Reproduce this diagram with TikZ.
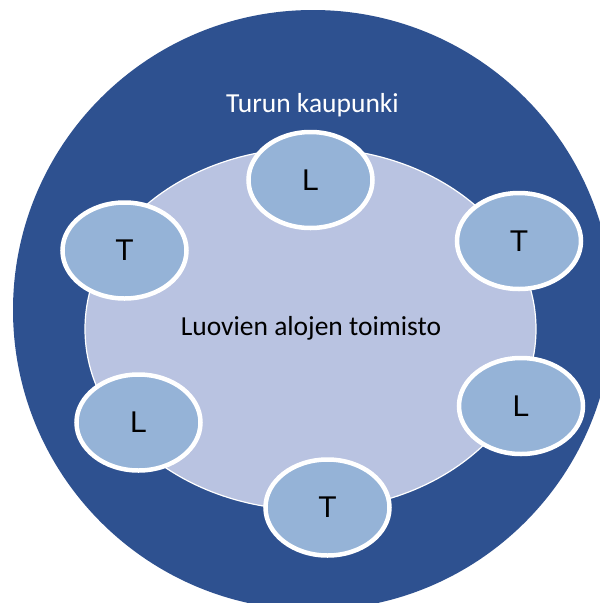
\documentclass[tikz,border=0pt]{standalone}
\usepackage{fontspec}
\setmainfont{Carlito}
\newfontfamily\letterfont{Liberation Sans}
\usetikzlibrary{shapes.geometric}
\definecolor{outerblue}{HTML}{2E5190}
\definecolor{innerlav}{HTML}{B9C3E1}
\definecolor{smallblue}{HTML}{95B3D7}
\tikzset{
  smallnode/.style={ellipse, fill=smallblue, draw=white, line width=4.5pt,
    minimum width=124pt, minimum height=96pt, inner sep=0pt,
    font=\letterfont\fontsize{30}{30}\selectfont, text=black},
  labeltext/.style={font=\fontsize{27.5}{29}\selectfont, inner sep=0pt}
}
\begin{document}
\begin{tikzpicture}[x=1pt,y=-1pt]
\useasboundingbox (0,0) rectangle (600,603);
\clip (0,0) rectangle (600,603);
\node[circle, fill=outerblue, minimum size=600pt, inner sep=0pt] (city) at (313,310) {};
\node[ellipse, fill=innerlav, draw=white, line width=1.2pt, minimum width=451pt, minimum height=362pt, inner sep=0pt] (office) at (310.5,329) {};
\node[labeltext, text=white] (citylabel) at (312.5,105) {Turun kaupunki};
\node[labeltext, text=black] (officelabel) at (311,328) {Luovien alojen toimisto};
\node[smallnode] (l1) at (310.5,180) {L};
\node[smallnode] (t1) at (519,241) {T};
\node[smallnode] (l2) at (521,406) {L};
\node[smallnode] (t2) at (327.5,507.5) {T};
\node[smallnode] (l3) at (138.5,422.5) {L};
\node[smallnode] (t3) at (124.5,250.5) {T};
\end{tikzpicture}
\end{document}
